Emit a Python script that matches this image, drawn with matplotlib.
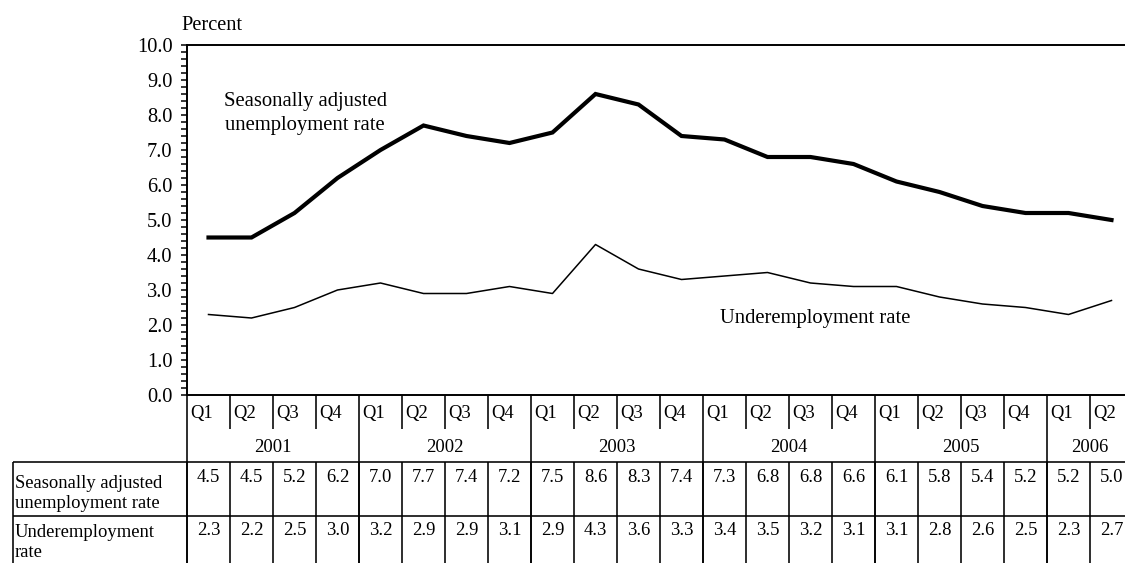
import matplotlib
matplotlib.use("Agg")
import matplotlib.pyplot as plt
from matplotlib.ticker import MultipleLocator, FormatStrFormatter

plt.rcParams['font.family'] = ['Liberation Serif', 'DejaVu Serif']

quarters = ["Q1", "Q2", "Q3", "Q4"] * 5 + ["Q1", "Q2"]
years = ["2001", "2002", "2003", "2004", "2005", "2006"]
year_quarters = [4, 4, 4, 4, 4, 2]
unemployment = [4.5, 4.5, 5.2, 6.2, 7.0, 7.7, 7.4, 7.2, 7.5, 8.6, 8.3, 7.4,
                7.3, 6.8, 6.8, 6.6, 6.1, 5.8, 5.4, 5.2, 5.2, 5.0]
underemployment = [2.3, 2.2, 2.5, 3.0, 3.2, 2.9, 2.9, 3.1, 2.9, 4.3, 3.6, 3.3,
                   3.4, 3.5, 3.2, 3.1, 3.1, 2.8, 2.6, 2.5, 2.3, 2.7]

W, H = 1125, 563
fig = plt.figure(figsize=(W / 100, H / 100), dpi=100)
x0, y0, colw, ppu = 187, 395, 43.0, 35.0
n = len(quarters)
ax = fig.add_axes([x0 / W, (H - y0) / H, n * colw / W, 10 * ppu / H])
ax.set_xlim(0, n)
ax.set_ylim(0, 10)

def py(p):  # pixel row -> data y
    return (y0 - p) / ppu

def px(p):  # pixel col -> data x
    return (p - x0) / colw

xs = [i + 0.5 for i in range(n)]
ax.plot(xs, unemployment, color='black', lw=3.0, solid_joinstyle='miter')
ax.plot(xs, underemployment, color='black', lw=1.1)

ax.spines['right'].set_visible(False)
for s in ['left', 'bottom', 'top']:
    ax.spines[s].set_linewidth(1.4)

ax.yaxis.set_major_locator(MultipleLocator(1.0))
ax.yaxis.set_minor_locator(MultipleLocator(0.2))
ax.yaxis.set_major_formatter(FormatStrFormatter('%.1f'))
ax.tick_params(axis='y', which='both', direction='out', length=4.5, width=1.1,
               labelsize=14.7, pad=6)
ax.set_xticks([])

fs_main = 14.9
ax.text(px(181.7), py(30), "Percent", fontsize=14.7, ha='left', va='baseline', clip_on=False)
ax.text(px(305), py(106), "Seasonally adjusted", fontsize=fs_main, ha='center', va='baseline')
ax.text(px(305), py(130), "unemployment rate", fontsize=fs_main, ha='center', va='baseline')
ax.text(px(815), py(323), "Underemployment rate", fontsize=fs_main, ha='center', va='baseline')

# ---- table below the axes ----
tfs = 13.4
lk = dict(color='black', lw=1.15, clip_on=False, solid_capstyle='butt')
left_x = px(13)
y_row1 = py(462)
y_row2 = py(516)
y_bot = py(570)
y_qsep = py(429)

for i, q in enumerate(quarters):
    ax.text(i + 0.07, py(418), q, fontsize=tfs, ha='left', va='baseline', clip_on=False)
start = 0
for yr, k in zip(years, year_quarters):
    ax.text(start + k / 2, py(452), yr, fontsize=tfs, ha='center', va='baseline', clip_on=False)
    ax.plot([start, start], [0, y_bot], **lk)
    for j in range(1, k):
        ax.plot([start + j, start + j], [0, y_qsep], **lk)
    start += k
ax.plot([start, start], [0, y_bot], **lk)

ax.plot([left_x, n], [y_row1, y_row1], **lk)
ax.plot([left_x, n], [y_row2, y_row2], **lk)
ax.plot([left_x, left_x], [y_row1, y_bot], **lk)
for i in range(n + 1):
    ax.plot([i, i], [y_row1, y_bot], **lk)

ax.text(px(15), py(488), "Seasonally adjusted", fontsize=tfs, ha='left', va='baseline', clip_on=False)
ax.text(px(15), py(508), "unemployment rate", fontsize=tfs, ha='left', va='baseline', clip_on=False)
ax.text(px(15), py(537), "Underemployment", fontsize=tfs, ha='left', va='baseline', clip_on=False)
ax.text(px(15), py(557), "rate", fontsize=tfs, ha='left', va='baseline', clip_on=False)

for i in range(n):
    ax.text(i + 0.5, py(482), f"{unemployment[i]:.1f}", fontsize=tfs, ha='center', va='baseline', clip_on=False)
    ax.text(i + 0.5, py(535), f"{underemployment[i]:.1f}", fontsize=tfs, ha='center', va='baseline', clip_on=False)

fig.savefig("out.png", dpi=100)
